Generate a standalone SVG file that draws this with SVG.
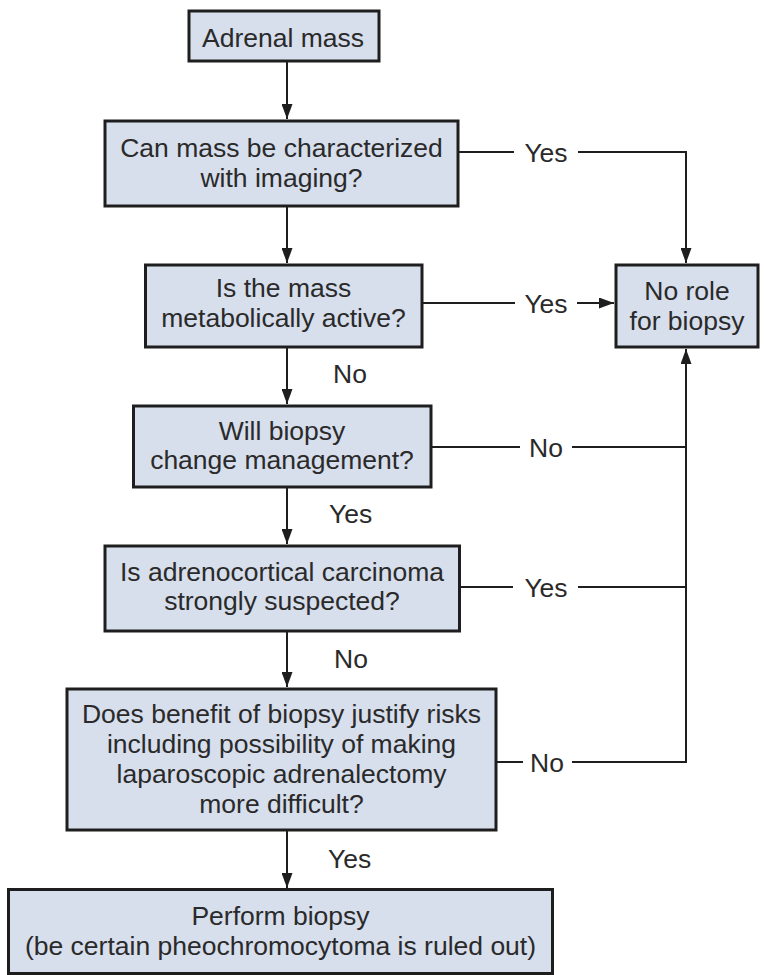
<svg xmlns="http://www.w3.org/2000/svg" width="764" height="975" viewBox="0 0 764 975">
<style>
.box{fill:#d7deec;stroke:#1e1e1e;stroke-width:3}
.t{font-family:"Liberation Sans",Arial,sans-serif;font-size:26.5px;fill:#2a2a2a;text-anchor:middle}
.l{font-family:"Liberation Sans",Arial,sans-serif;font-size:26.5px;fill:#2a2a2a}
.c{fill:none;stroke:#1e1e1e;stroke-width:2}
</style>
<defs>
<marker id="ah" markerUnits="userSpaceOnUse" markerWidth="15" markerHeight="11" refX="15" refY="5.5" orient="auto">
<path d="M0,0 L15,5.5 L0,11 z" fill="#1e1e1e"/>
</marker>
</defs>
<rect width="764" height="975" fill="#ffffff"/>
<g id="connectors">
<line class="c" x1="287" y1="61" x2="287" y2="119" marker-end="url(#ah)"/>
<line class="c" x1="287" y1="206" x2="287" y2="263" marker-end="url(#ah)"/>
<line class="c" x1="287" y1="347" x2="287" y2="404" marker-end="url(#ah)"/>
<line class="c" x1="287" y1="487" x2="287" y2="544" marker-end="url(#ah)"/>
<line class="c" x1="287" y1="631" x2="287" y2="687" marker-end="url(#ah)"/>
<line class="c" x1="287" y1="830" x2="287" y2="888" marker-end="url(#ah)"/>
<line class="c" x1="458" y1="152" x2="514" y2="152"/>
<polyline class="c" points="578,152 686,152 686,263" marker-end="url(#ah)"/>
<line class="c" x1="422" y1="303" x2="515" y2="303"/>
<line class="c" x1="577" y1="303" x2="614" y2="303" marker-end="url(#ah)"/>
<line class="c" x1="431" y1="447" x2="520" y2="447"/>
<line class="c" x1="572" y1="447" x2="686" y2="447"/>
<line class="c" x1="459" y1="587" x2="513" y2="587"/>
<line class="c" x1="578" y1="587" x2="686" y2="587"/>
<line class="c" x1="496" y1="762" x2="523" y2="762"/>
<polyline class="c" points="572,762 686,762 686,349" marker-end="url(#ah)"/>
<text class="l" x="546" y="161.5" text-anchor="middle">Yes</text>
<text class="l" x="546" y="312.5" text-anchor="middle">Yes</text>
<text class="l" x="546" y="456.5" text-anchor="middle">No</text>
<text class="l" x="546" y="596.5" text-anchor="middle">Yes</text>
<text class="l" x="547" y="771.5" text-anchor="middle">No</text>
<text class="l" x="333" y="383">No</text>
<text class="l" x="329" y="523">Yes</text>
<text class="l" x="334" y="668">No</text>
<text class="l" x="328" y="868">Yes</text>
</g>
<g id="n1">
<rect class="box" x="189" y="11" width="190" height="50"/>
<text class="t" x="283" y="46.5">Adrenal mass</text>
</g>
<g id="n2">
<rect class="box" x="105" y="121" width="353" height="85"/>
<text class="t" x="281.5" y="157">Can mass be characterized</text>
<text class="t" x="281.5" y="187">with imaging?</text>
</g>
<g id="n3">
<rect class="box" x="145.5" y="265" width="276.5" height="82"/>
<text class="t" x="283.5" y="297">Is the mass</text>
<text class="t" x="283.5" y="327">metabolically active?</text>
</g>
<g id="n4">
<rect class="box" x="616" y="265" width="142" height="82"/>
<text class="t" x="687" y="300">No role</text>
<text class="t" x="687" y="330">for biopsy</text>
</g>
<g id="n5">
<rect class="box" x="133.5" y="406" width="297.5" height="81"/>
<text class="t" x="282" y="440">Will biopsy</text>
<text class="t" x="282" y="469">change management?</text>
</g>
<g id="n6">
<rect class="box" x="105" y="546" width="354.5" height="85"/>
<text class="t" x="282" y="581">Is adrenocortical carcinoma</text>
<text class="t" x="282" y="610">strongly suspected?</text>
</g>
<g id="n7">
<rect class="box" x="67" y="689" width="429" height="141"/>
<text class="t" x="281.5" y="723">Does benefit of biopsy justify risks</text>
<text class="t" x="281.5" y="753">including possibility of making</text>
<text class="t" x="281.5" y="782.5">laparoscopic adrenalectomy</text>
<text class="t" x="281.5" y="812.5">more difficult?</text>
</g>
<g id="n8">
<rect class="box" x="8.5" y="889.5" width="544" height="84"/>
<text class="t" x="280.5" y="925">Perform biopsy</text>
<text class="t" x="280.5" y="955">(be certain pheochromocytoma is ruled out)</text>
</g>
</svg>
